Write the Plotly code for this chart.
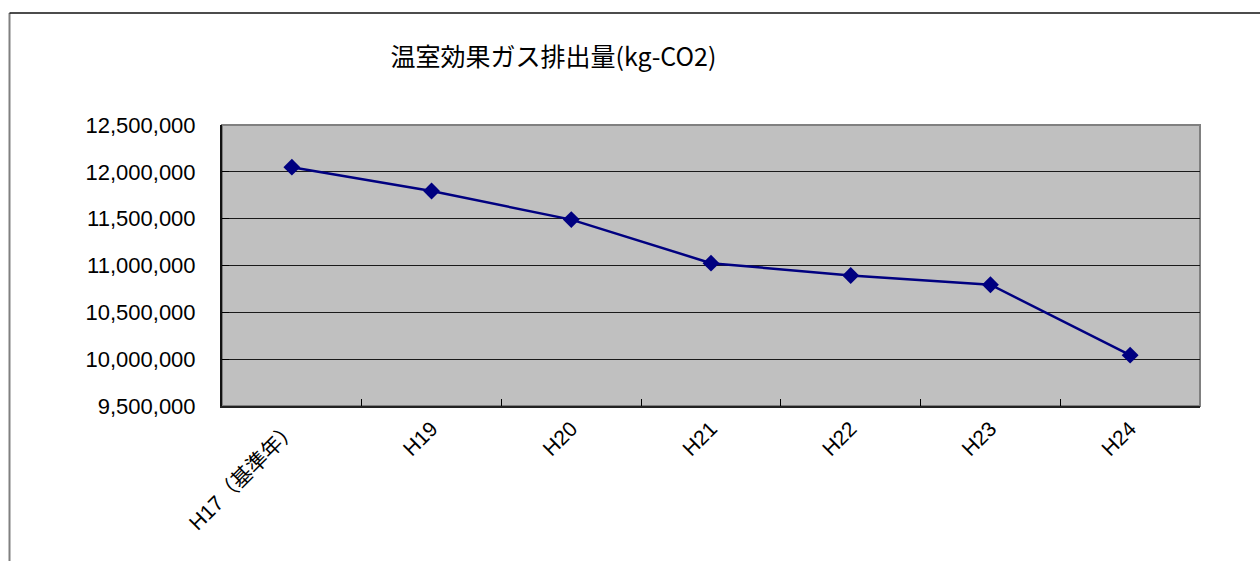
import plotly.graph_objects as go

# Emissions by fiscal year (kg-CO2)
years = ["H17（基準年）", "H19", "H20", "H21", "H22", "H23", "H24"]
emissions = [12050000, 11795000, 11490000, 11025000, 10893000, 10795000, 10043000]

y_min, y_max, y_step = 9500000, 12500000, 500000

W, H = 1260, 561
L, R, T, B = 222, 60, 125, 155
plot_w = W - L - R
plot_h = H - T - B


def px_to_paper_x(px):
    return (px - L) / plot_w


def px_to_paper_y(py):
    return (H - B - py) / plot_h


fig = go.Figure()
fig.add_trace(go.Scatter(
    x=years,
    y=emissions,
    mode="lines+markers",
    line=dict(color="#000080", width=2.5),
    marker=dict(symbol="diamond", size=13, color="#000080"),
    showlegend=False,
    hoverinfo="x+y",
))

# Gray frame around the plot area, then the outer chart frame
shapes = [
    dict(type="rect", xref="paper", yref="paper", x0=0, x1=1, y0=0, y1=1,
         line=dict(color="#808080", width=2), layer="below"),
    dict(type="line", xref="paper", yref="paper",
         x0=px_to_paper_x(9.5), x1=px_to_paper_x(9.5),
         y0=px_to_paper_y(13), y1=px_to_paper_y(H + 5),
         line=dict(color="#808080", width=2)),
    dict(type="line", xref="paper", yref="paper",
         x0=px_to_paper_x(9.5), x1=px_to_paper_x(W + 5),
         y0=px_to_paper_y(13), y1=px_to_paper_y(13),
         line=dict(color="#111111", width=1.5)),
]

fig.update_layout(
    width=W,
    height=H,
    margin=dict(l=L, r=R, t=T, b=B, pad=0),
    paper_bgcolor="white",
    plot_bgcolor="#C0C0C0",
    title=dict(
        text="温室効果ガス排出量(kg-CO2)",
        x=553.5 / W, xanchor="center",
        y=1 - 57 / H, yanchor="middle",
        font=dict(family="Noto Sans CJK JP", size=25, color="#000000"),
    ),
    shapes=shapes,
    xaxis=dict(
        type="category",
        range=[-0.5, len(years) - 0.5],
        tickson="boundaries",
        ticks="inside",
        ticklen=7,
        tickwidth=1,
        tickcolor="#000000",
        showgrid=False,
        showline=True,
        linecolor="#222222",
        linewidth=2,
        tickangle=-45,
        ticklabelstandoff=0,
        tickfont=dict(family="Liberation Sans, Noto Sans CJK JP", size=21, color="#000000"),
        zeroline=False,
    ),
    yaxis=dict(
        range=[y_min, y_max],
        tick0=y_min,
        dtick=y_step,
        tickformat=",d",
        ticks="inside",
        ticklen=7,
        tickwidth=1,
        tickcolor="#000000",
        showgrid=True,
        gridcolor="#1a1a1a",
        gridwidth=1,
        showline=True,
        linecolor="#111111",
        linewidth=2,
        ticklabelstandoff=20,
        tickfont=dict(family="Liberation Sans", size=22, color="#000000"),
        zeroline=False,
    ),
)

fig.write_html("out.html")
